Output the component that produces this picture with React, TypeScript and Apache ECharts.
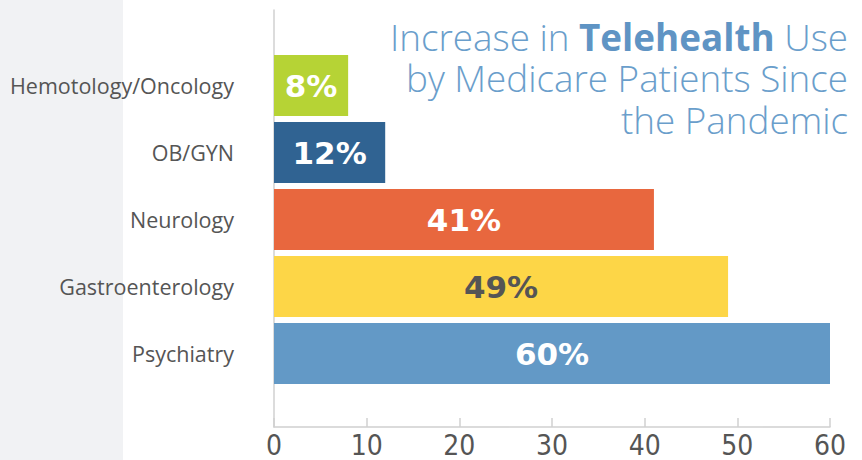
import React, { useEffect, useRef } from "react";
import * as echarts from "echarts";

const categories = ["Hemotology/Oncology", "OB/GYN", "Neurology", "Gastroenterology", "Psychiatry"];
const values = [8, 12, 41, 49, 60];
const barColors = ["#b6d335", "#306392", "#e8673e", "#fdd647", "#6399c6"];
const labelColors = ["#ffffff", "#ffffff", "#ffffff", "#555555", "#ffffff"];
const xTicks = { min: 0, max: 60, interval: 10 };

export default function App() {
  const ref = useRef<HTMLDivElement>(null);
  useEffect(() => {
    document.body.style.margin = "0";
    const chart = echarts.init(ref.current!, undefined, { renderer: "svg" });
    chart.setOption({
      animation: false,
      backgroundColor: "#ffffff",
      title: {
        text: "{l|Increase in }{b|Telehealth}{l| Use}\n{l|by Medicare Patients Since}\n{l|the Pandemic}",
        left: 843,
        top: 11,
        textAlign: "right",
        textStyle: {
          rich: {
            l: { fontFamily: "Open Sans", fontWeight: 300, fontSize: 36.8, color: "#6a9ecb", lineHeight: 41.5, align: "right" },
            b: { fontFamily: "Open Sans", fontWeight: "bold", fontSize: 36.8, color: "#5f94c4", lineHeight: 41.5, align: "right" },
          },
        },
      },
      graphic: [
        { type: "rect", left: 0, top: 0, z: -10, shape: { width: 123, height: 460 }, style: { fill: "#f1f2f4" } },
      ],
      grid: [
        { left: 274, width: 556, top: 52, height: 335 },
        { left: 274, width: 556, top: 10, height: 417 },
      ],
      xAxis: [
        {
          type: "value",
          gridIndex: 0,
          min: xTicks.min,
          max: xTicks.max,
          interval: xTicks.interval,
          position: "bottom",
          offset: 40,
          axisLine: { show: true, lineStyle: { color: "#d0d0d0", width: 1.5 } },
          axisTick: { show: true, inside: true, length: 9, lineStyle: { color: "#d0d0d0", width: 1.5 } },
          splitLine: { show: false },
          axisLabel: {
            margin: 6,
            fontFamily: "'Liberation Sans Narrow', 'DejaVu Sans Condensed', sans-serif",
            fontSize: 28,
            lineHeight: 24,
            color: "#555555",
          },
        },
        { type: "value", gridIndex: 1, show: false, min: 0, max: 60 },
      ],
      yAxis: [
        {
          type: "category",
          gridIndex: 0,
          data: categories,
          inverse: true,
          axisLine: { show: false },
          axisTick: { show: false },
          axisLabel: { margin: 40, fontFamily: "Open Sans", fontSize: 21.5, color: "#555555" },
        },
        {
          type: "value",
          gridIndex: 1,
          axisLine: { show: true, lineStyle: { color: "#d0d0d0", width: 1.5 } },
          axisTick: { show: false },
          axisLabel: { show: false },
          splitLine: { show: false },
        },
      ],
      series: [
        {
          type: "bar",
          xAxisIndex: 0,
          yAxisIndex: 0,
          barWidth: 61,
          data: values.map((v, i) => ({
            value: v,
            itemStyle: { color: barColors[i] },
            label: { color: labelColors[i] },
          })),
          label: {
            show: true,
            position: "inside",
            formatter: "{c}%",
            fontFamily: "'DejaVu Sans', Verdana, sans-serif",
            fontWeight: "bold",
            fontSize: 31,
          },
        },
      ],
    });
    return () => chart.dispose();
  }, []);
  return <div ref={ref} style={{ width: 862, height: 460 }} />;
}
